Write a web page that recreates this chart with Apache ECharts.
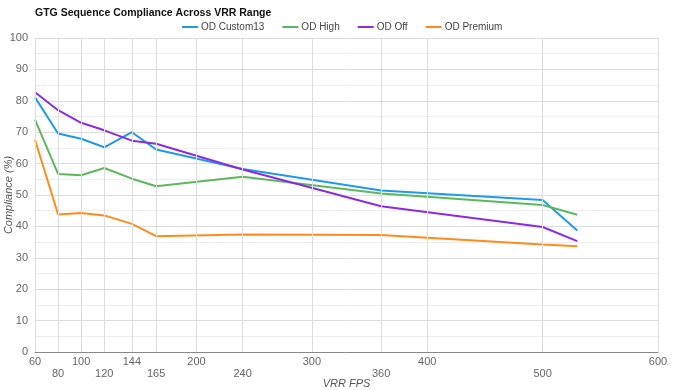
<!DOCTYPE html>
<html>
<head>
<meta charset="utf-8">
<script src="https://cdn.jsdelivr.net/npm/echarts@6/dist/echarts.min.js"></script>
<style>html,body{margin:0;padding:0;background:#fff}#c{width:675px;height:390px}</style>
</head>
<body>
<div id="c"></div>
<script>
const fps = [60, 80, 100, 120, 144, 165, 240, 360, 500, 530];
const odCustom13 = [81.1, 69.6, 67.9, 65.2, 70.0, 64.5, 58.3, 51.4, 48.4, 38.7];
const odHigh = [74.0, 56.7, 56.3, 58.6, 55.2, 52.8, 55.8, 50.5, 46.8, 43.7];
const odOff = [82.7, 77.0, 73.0, 70.6, 67.3, 66.3, 58.1, 46.4, 39.8, 35.3];
const odPremium = [67.6, 43.8, 44.3, 43.5, 40.8, 36.9, 37.4, 37.3, 34.2, 33.7];
const xTicks = [60, 80, 100, 120, 144, 165, 200, 240, 300, 360, 400, 500, 600];
const seriesNames = ['OD Custom13', 'OD High', 'OD Off', 'OD Premium'];
const colors = ['#1e9be8', '#5cb85c', '#8b2be2', '#ff8c1a'];
const values = [odCustom13, odHigh, odOff, odPremium];

const chart = echarts.init(document.getElementById('c'));
const series = seriesNames.map((n, i) => ({
  name: n, type: 'line', showSymbol: false, symbol: 'none',
  data: fps.map((f, j) => [f, values[i][j]]),
  lineStyle: { width: 2, color: colors[i] }, itemStyle: { color: colors[i] },
  z: 3
}));
series[0].markLine = {
  silent: true, symbol: 'none', animation: false,
  label: { show: false },
  lineStyle: { color: '#dddddd', width: 1, type: 'solid' },
  data: xTicks.map(v => ({ xAxis: v }))
};
chart.setOption({
  animation: false,
  color: colors,
  title: {
    text: 'GTG Sequence Compliance Across VRR Range',
    left: 35, top: 7, padding: 0,
    textStyle: { fontFamily: 'Liberation Sans', fontSize: 10.5, fontWeight: 'bold', color: '#111', lineHeight: 12 }
  },
  legend: {
    left: 182, top: 22, padding: 0,
    itemWidth: 16, itemHeight: 2, itemGap: 18,
    icon: 'rect',
    textStyle: { fontFamily: 'Liberation Sans', fontSize: 10, color: '#444', padding: [0, 0, 0, -2] },
    data: seriesNames
  },
  grid: { left: 35, right: 17, top: 38, bottom: 38, outerBoundsMode: 'none', containLabel: false },
  xAxis: {
    type: 'value', min: 60, max: 600,
    name: 'VRR FPS', nameLocation: 'middle', nameGap: 26, nameMoveOverlap: false,
    nameTextStyle: { fontFamily: 'Liberation Sans', fontSize: 11, fontStyle: 'italic', color: '#555' },
    axisLine: { show: true, lineStyle: { color: '#888' } },
    axisTick: { show: false },
    splitLine: { show: false },
    axisLabel: {
      customValues: xTicks,
      fontFamily: 'Liberation Sans', fontSize: 11, color: '#666', margin: 4,
      lineHeight: 12,
      formatter: v => (xTicks.indexOf(v) % 2 === 1 ? '\n' + v : String(v))
    }
  },
  yAxis: {
    type: 'value', min: 0, max: 100, interval: 10,
    name: 'Compliance (%)', nameLocation: 'middle', nameGap: 21, nameMoveOverlap: false,
    nameTextStyle: { fontFamily: 'Liberation Sans', fontSize: 11, fontStyle: 'italic', color: '#555' },
    axisLine: { show: false },
    axisTick: { show: false },
    axisLabel: { fontFamily: 'Liberation Sans', fontSize: 11, color: '#666', margin: 7 },
    splitLine: { show: true, lineStyle: { color: '#dddddd' } },
    minorTick: { show: false, splitNumber: 2 },
    minorSplitLine: { show: true, lineStyle: { color: '#eeeeee' } }
  },
  series: series
});
</script>
</body>
</html>
